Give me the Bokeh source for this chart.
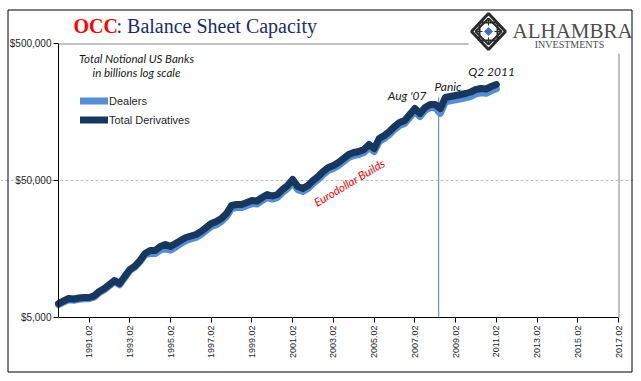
import math
from bokeh.plotting import figure
from bokeh.models import (FixedTicker, Label, Legend, LegendItem, PolyAnnotation, Range1d)
from bokeh.embed import file_html
from bokeh.resources import INLINE

# ---------------- data (quarterly, Q4 1989 .. Q2 2011) ----------------
start_year, start_q = 1989, 4
total_derivatives = [
    6325, 6600, 6880, 6820, 6940, 7000, 7000, 7180, 7740, 8140,
    8700, 9310, 8850, 9960, 11200, 11880, 13030, 14660, 15420, 15420,
    16490, 17050, 16490, 17340, 18240, 19180, 19670, 20180, 21220, 22700,
    24280, 25100, 26400, 28710, 32850, 33400, 33400, 34550, 35730, 35430,
    37570, 39510, 38530, 39510, 42980, 45970, 50840, 45200, 43710, 45970,
    50000, 53480, 58170, 62210, 64340, 67670, 72370, 77400, 80040, 81400,
    84180, 91570, 85610, 101300, 106500, 113900, 123900, 132500, 137100, 151600,
    167700, 154200, 170600, 179300, 179300, 167700, 201700, 205200, 208700, 212200,
    215800, 221300, 230800, 234700, 232700, 242700, 251000]
dealers = [
    6200, 6470, 6740, 6680, 6800, 6860, 6860, 7040, 7590, 7980,
    8530, 9120, 8670, 9760, 10980, 11640, 12770, 14370, 14650, 14650,
    15500, 15900, 15500, 16300, 17300, 18200, 18700, 19200, 20200, 21600,
    23100, 23800, 25100, 27300, 31200, 31700, 31700, 32800, 33900, 33700,
    35700, 37500, 36600, 37500, 40800, 43700, 48300, 42900, 41500, 43700,
    47500, 50800, 55300, 59100, 61100, 64300, 68800, 73500, 76000, 77300,
    80000, 87000, 81300, 96200, 101200, 108200, 117700, 125900, 130200, 144000,
    159300, 146500, 162100, 170300, 170300, 154300, 187600, 190800, 194100, 197300,
    200700, 205800, 214600, 218300, 216400, 225700, 233400]
tick_labels = ["1991.02", "1993.02", "1995.02", "1997.02", "1999.02", "2001.02", "2003.02",
               "2005.02", "2007.02", "2009.02", "2011.02", "2013.02", "2015.02", "2017.02"]
y_ticks = [5000, 50000, 500000]
y_labels = ["$5,000", "$50,000", "$500,000"]
panic_date = 2008.42
axis_x_start, axis_x_end = 1989.75, 2017.25

xq = [start_year + (start_q - 1) / 4 + i / 4 for i in range(len(total_derivatives))]
tick_pos = [float(s[:4]) + 0.25 for s in tick_labels]

LIGHT = "#558ED5"
DARK = "#17375E"

# ---------------- layout geometry (page pixels) ----------------
W, H = 633, 373
PL, PR, PT, PB = 58, 618, 43, 317          # plot-area edges
kx = (PR - PL) / (axis_x_end - axis_x_start)
ky = (PB - PT) / math.log10(y_ticks[-1] / y_ticks[0])
x0 = axis_x_start - PL / kx
x1 = axis_x_end + (W - PR) / kx
y0 = y_ticks[0] / 10 ** ((H - PB) / ky)
y1 = y_ticks[-1] * 10 ** (PT / ky)

p = figure(width=W, height=H, output_backend="svg", toolbar_location=None,
           y_axis_type="log", x_range=Range1d(x0, x1), y_range=Range1d(y0, y1),
           title=None, min_border=0)
p.min_border_left = p.min_border_right = p.min_border_top = p.min_border_bottom = 0
p.background_fill_color = "white"
p.border_fill_color = "white"
p.outline_line_color = None

# axes placed inside the canvas
p.xaxis.fixed_location = y_ticks[0]
p.yaxis.fixed_location = axis_x_start
p.xaxis.bounds = (axis_x_start, axis_x_end)
p.yaxis.bounds = (y_ticks[0], y_ticks[-1])
p.xaxis.ticker = FixedTicker(ticks=tick_pos)
p.xaxis.major_label_overrides = {t: s for t, s in zip(tick_pos, tick_labels)}
p.xaxis.major_label_orientation = math.pi / 2
p.yaxis.ticker = FixedTicker(ticks=y_ticks)
p.yaxis.major_label_overrides = {t: s for t, s in zip(y_ticks, y_labels)}
for ax in (p.xaxis, p.yaxis):
    ax.axis_line_color = "black"
    ax.axis_line_width = 1
    ax.major_tick_line_color = "black"
    ax.major_tick_out = 5
    ax.major_tick_in = 0
    ax.minor_tick_line_color = None
    ax.major_label_text_font = "Liberation Sans"
    ax.major_label_text_color = "#262626"
p.xaxis.major_label_text_font_size = "9px"
p.yaxis.major_label_text_font_size = "10px"
p.xaxis.major_label_standoff = 3
p.yaxis.major_label_standoff = 2
p.xgrid.grid_line_color = None
p.ygrid.ticker = FixedTicker(ticks=[50000])
p.ygrid.bounds = (axis_x_start, axis_x_end)
p.ygrid.grid_line_color = "#BFBFBF"
p.ygrid.grid_line_dash = "3 2"

# screen helpers (frame = whole canvas; y measured from bottom)
def fx(px):
    return px

def fy(py):
    return H - py

def poly(pts, fill_color=None, fill_alpha=0, line_alpha=1, **kw):
    p.add_layout(PolyAnnotation(xs=[fx(a) for a, b in pts], ys=[fy(b) for a, b in pts],
                                xs_units="screen", ys_units="screen",
                                fill_color=fill_color, fill_alpha=fill_alpha,
                                line_alpha=line_alpha, **kw))

# outer black border and the grey plot-area edges
poly([(7.5, 9.5), (631.5, 9.5), (631.5, 371.5), (7.5, 371.5)],
     line_color="black", line_width=1)
poly([(PL, PT + 0.5), (468, PT + 0.5)], line_color="#868686", line_width=1)
poly([(PR + 0.5, 53), (PR + 0.5, PB)], line_color="#868686", line_width=1)

# panic marker line
p.segment(x0=[panic_date], y0=[y_ticks[0]], x1=[panic_date], y1=[total_derivatives[76]],
          line_color="#4A7EBB", line_width=1)

r_d = p.line(xq, dealers, line_color=LIGHT, line_width=7,
             line_join="round", line_cap="round")
r_t = p.line(xq, total_derivatives, line_color=DARK, line_width=7,
             line_join="round", line_cap="round")

legend = Legend(items=[LegendItem(label="Dealers", renderers=[r_d]),
                       LegendItem(label="Total Derivatives", renderers=[r_t])],
                location=(fx(80), fy(129)), orientation="vertical",
                glyph_width=28, glyph_height=19, label_height=19, spacing=0,
                padding=0, margin=0, border_line_color=None,
                background_fill_alpha=0, label_standoff=1,
                label_text_font="Liberation Sans", label_text_font_size="11px",
                label_text_color="#262626")
p.add_layout(legend)

# title
p.add_layout(Label(x=fx(73), y=fy(25), x_units="screen", y_units="screen",
                   text="OCC", text_font="Liberation Serif", text_font_size="20px",
                   text_font_style="bold", text_color="#FF0000",
                   text_baseline="middle"))
p.add_layout(Label(x=fx(73) + 43, y=fy(25), x_units="screen", y_units="screen",
                   text=": Balance Sheet Capacity", text_font="Liberation Serif",
                   text_font_size="20px", text_color="#1C2C6E",
                   text_baseline="middle"))

# subtitle notes
for txt, py in (("Total Notional US Banks", 57.5), ("in billions log scale", 72)):
    p.add_layout(Label(x=fx(136), y=fy(py), x_units="screen", y_units="screen",
                       text=txt, text_font="Lato", text_font_size="11.5px",
                       text_font_style="italic", text_color="#1a1a1a",
                       text_align="center", text_baseline="middle"))

# annotations in data coordinates
for txt, xx, yy in (("Aug '07", 2006.87, 208700), ("Panic", 2008.88, 242700),
                    ("Q2 2011", 2011.02, 312300)):
    p.add_layout(Label(x=xx, y=yy, text=txt, text_font="Lato", text_font_size="12px",
                       text_font_style="italic", text_color="#1a1a1a",
                       text_align="center", text_baseline="middle"))
p.add_layout(Label(x=2004.03, y=48350, text="Eurodollar Builds", text_font="Lato",
                   text_font_size="11.5px", text_font_style="italic", text_color="#FF0000",
                   text_align="center", text_baseline="middle", angle=31,
                   angle_units="deg"))

# logo
cx, cy = 488, 31
poly([(cx, cy - 18), (cx + 17, cy), (cx, cy + 18), (cx - 17, cy)],
     line_color="#2b2b2b", line_width=3)
poly([(cx - 9, cy - 9), (cx + 9, cy - 9), (cx + 9, cy + 9), (cx - 9, cy + 9)],
     line_color="#2b2b2b", line_width=2)
poly([(cx, cy - 13), (cx + 13, cy), (cx, cy + 13), (cx - 13, cy)],
     line_color="#2b2b2b", line_width=2)
poly([(cx - 13, cy), (cx + 13, cy)], line_color="#2b2b2b", line_width=1)
poly([(cx, cy - 13), (cx, cy + 13)], line_color="#2b2b2b", line_width=1)
poly([(cx, cy - 5.5), (cx + 5.5, cy), (cx, cy + 5.5), (cx - 5.5, cy)],
     fill_color="#3F6FC0", fill_alpha=1, line_color="white", line_width=1.5)
p.add_layout(Label(x=fx(512), y=fy(30.5), x_units="screen", y_units="screen",
                   text="ALHAMBRA", text_font="Liberation Serif", text_font_size="21px",
                   text_color="#4d4d4d", text_baseline="middle"))
p.add_layout(Label(x=fx(569), y=fy(44), x_units="screen", y_units="screen",
                   text="INVESTMENTS", text_font="Liberation Serif", text_font_size="10px",
                   text_color="#4d4d4d", text_baseline="middle", text_align="center"))

open("out.html", "w").write(file_html(p, INLINE))
